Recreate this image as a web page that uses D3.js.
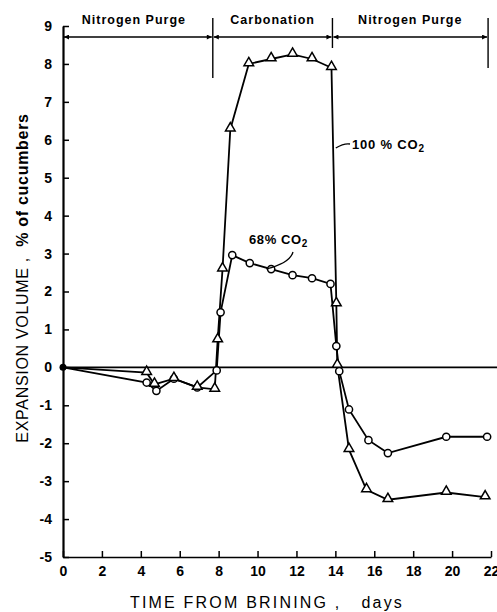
<!DOCTYPE html>
<html>
<head>
<meta charset="utf-8">
<script src="https://cdn.jsdelivr.net/npm/d3@7"></script>
<style>
  body { margin: 0; background: #fff; }
  text { font-family: "Liberation Sans", Arial, sans-serif; fill: #000; }
</style>
</head>
<body>
<div id="chart"></div>
<script>
// data (days, % expansion)
var co2_100 = [
  [0, 0], [4.3, -0.14], [4.7, -0.45], [5.7, -0.3], [6.9, -0.53], [7.8, -0.58],
  [7.95, 0.72], [8.2, 2.59], [8.6, 6.28], [9.55, 8.0], [10.7, 8.13], [11.8, 8.25],
  [12.8, 8.13], [13.8, 7.9], [14.05, 1.67], [14.1, 0.05], [14.7, -2.17],
  [15.6, -3.23], [16.7, -3.49], [19.7, -3.3], [21.7, -3.42]
]
var co2_68 = [
  [0, 0], [4.3, -0.4], [4.8, -0.62], [5.7, -0.3], [6.9, -0.53], [7.9, -0.08],
  [8.1, 1.45], [8.7, 2.96], [9.6, 2.75], [10.7, 2.59], [11.8, 2.43], [12.8, 2.35],
  [13.75, 2.2], [14.05, 0.56], [14.2, -0.1], [14.7, -1.11], [15.7, -1.92],
  [16.7, -2.26], [19.7, -1.83], [21.8, -1.83]
]
var xTicks = [0, 2, 4, 6, 8, 10, 12, 14, 16, 18, 20, 22]
var yTicks = [9, 8, 7, 6, 5, 4, 3, 2, 1, 0, -1, -2, -3, -4, -5]
var phases = ["Nitrogen Purge", "Carbonation", "Nitrogen Purge"]
var phaseBounds = [0, 7.7, 13.85, 21.85]

var width = 497, height = 612

var svg = d3.select("#chart").append("svg")
    .attr("width", width)
    .attr("height", height)

var x = d3.scaleLinear().domain([0, 22]).range([63, 491])
var y = d3.scaleLinear().domain([-5, 9]).range([557, 26])

// arrow head for the phase bracket
var defs = svg.append("defs")
defs.append("marker")
    .attr("id", "arr")
    .attr("viewBox", "0 0 10 10")
    .attr("refX", 10).attr("refY", 5)
    .attr("markerWidth", 9).attr("markerHeight", 5)
    .attr("markerUnits", "userSpaceOnUse")
    .attr("orient", "auto-start-reverse")
    .append("path")
    .attr("d", "M0,0 L10,5 L0,10 Z")
    .attr("fill", "#000")

// axes
var yAxis = d3.axisLeft(y).tickValues(yTicks).tickSize(-6).tickSizeOuter(0).tickPadding(11)
var gy = svg.append("g").attr("transform", "translate(" + x(0) + ",0)").call(yAxis)
gy.select(".domain").attr("stroke-width", 2.2)
gy.selectAll(".tick line").attr("stroke-width", 1.5)
gy.selectAll("text").style("font-size", "14px").style("font-weight", "bold")
    .text(function (d) { return d })

var xAxis = d3.axisBottom(x).tickValues(xTicks).tickSize(-6).tickSizeOuter(0).tickPadding(9)
var gx = svg.append("g").attr("transform", "translate(0," + y(-5) + ")").call(xAxis)
gx.select(".domain").attr("stroke-width", 1.6)
gx.selectAll(".tick line").attr("stroke-width", 1.5)
gx.selectAll("text").style("font-size", "14px").style("font-weight", "bold")

// zero line
svg.append("line")
    .attr("x1", x(0)).attr("x2", width)
    .attr("y1", y(0)).attr("y2", y(0))
    .attr("stroke", "#000").attr("stroke-width", 1.6)

// phase bracket at the top
var bracketY = 37
phases.forEach(function (p, i) {
    var a = x(phaseBounds[i]), b = x(phaseBounds[i + 1])
    svg.append("line")
        .attr("x1", a + 1).attr("x2", b - 1)
        .attr("y1", bracketY).attr("y2", bracketY)
        .attr("stroke", "#000").attr("stroke-width", 1.6)
        .attr("marker-start", "url(#arr)")
        .attr("marker-end", "url(#arr)")
    svg.append("text")
        .attr("x", (a + b) / 2 + (i == 0 ? -4 : 0))
        .attr("y", 24)
        .attr("text-anchor", "middle")
        .style("font-size", "12.5px")
        .style("font-weight", "bold")
        .style("letter-spacing", "1px")
        .text(p)
})
var dividerEnds = [78, 48, 68]
phaseBounds.slice(1).forEach(function (d, i) {
    svg.append("line")
        .attr("x1", x(d)).attr("x2", x(d))
        .attr("y1", 18).attr("y2", dividerEnds[i])
        .attr("stroke", "#000").attr("stroke-width", 1.4)
})

// series lines
var line = d3.line().x(function (d) { return x(d[0]) }).y(function (d) { return y(d[1]) })

svg.append("path").datum(co2_68)
    .attr("d", line).attr("fill", "none")
    .attr("stroke", "#000").attr("stroke-width", 1.8)
svg.append("path").datum(co2_100)
    .attr("d", line).attr("fill", "none")
    .attr("stroke", "#000").attr("stroke-width", 1.8)

// markers
svg.selectAll(".circ").data(co2_68.slice(1)).enter()
    .append("circle")
    .attr("class", "circ")
    .attr("cx", function (d) { return x(d[0]) })
    .attr("cy", function (d) { return y(d[1]) })
    .attr("r", 3.6)
    .attr("fill", "#fff").attr("stroke", "#000").attr("stroke-width", 1.5)

var tri = d3.symbol().type(d3.symbolTriangle).size(40)
svg.selectAll(".tri").data(co2_100.slice(1)).enter()
    .append("path")
    .attr("class", "tri")
    .attr("d", tri)
    .attr("transform", function (d) { return "translate(" + x(d[0]) + "," + (y(d[1]) - 1) + ")" })
    .attr("fill", "#fff").attr("stroke", "#000").attr("stroke-width", 1.5)

svg.append("circle")
    .attr("cx", x(0)).attr("cy", y(0)).attr("r", 3.5).attr("fill", "#000")

// series labels with leader lines
var lab100 = svg.append("text").attr("x", 352).attr("y", 149)
    .style("font-size", "13px").style("font-weight", "bold").style("letter-spacing", "0.8px")
lab100.append("tspan").text("100 % CO")
lab100.append("tspan").attr("dy", 3).style("font-size", "10px").text("2")
svg.append("path")
    .attr("d", "M" + (x(13.97) + 1) + ",148 Q344,143 350,144")
    .attr("fill", "none").attr("stroke", "#000").attr("stroke-width", 1.3)

var lab68 = svg.append("text").attr("x", 249).attr("y", 244)
    .style("font-size", "13px").style("font-weight", "bold").style("letter-spacing", "0.6px")
lab68.append("tspan").text("68% CO")
lab68.append("tspan").attr("dy", 3).style("font-size", "10px").text("2")
svg.append("path")
    .attr("d", "M293,252 Q290,263 " + x(10.45) + "," + (y(2.62) + 1))
    .attr("fill", "none").attr("stroke", "#000").attr("stroke-width", 1.3)

// axis titles
var ytitle = svg.append("text")
    .attr("transform", "translate(28,278) rotate(-90)")
    .attr("text-anchor", "middle")
    .style("font-size", "16px")
    .style("letter-spacing", "0.7px")
    .attr("xml:space", "preserve")
ytitle.append("tspan").text("EXPANSION VOLUME ,  ")
ytitle.append("tspan").style("font-weight", "bold").text("% of cucumbers")

svg.append("text")
    .attr("x", 267).attr("y", 608)
    .attr("text-anchor", "middle")
    .style("font-size", "16px")
    .style("letter-spacing", "2.2px")
    .attr("xml:space", "preserve")
    .text("TIME FROM BRINING ,   days")
</script>
</body>
</html>
